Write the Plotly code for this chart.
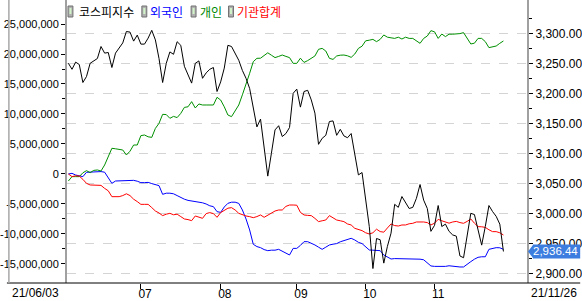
import plotly.graph_objects as go

# ---------------- data ----------------
START_LABEL = "21/06/03"
END_LABEL = "21/11/26"
MONTH_TICK_POS = [20, 42, 63, 82, 101]          # trading-day index of month starts
MONTH_TICK_TEXT = ["07", "08", "09", "10", "11"]

SERIES_NAMES = ["코스피지수", "외국인", "개인", "기관합계"]

# KOSPI index (right axis)
KOSPI = [3250, 3240, 3252, 3248, 3218, 3228, 3250, 3254, 3258, 3278,
         3267, 3268, 3243, 3267, 3276, 3284, 3303, 3302, 3287, 3297,
         3282, 3282, 3292, 3305, 3289, 3258, 3218, 3250, 3269, 3265,
         3286, 3280, 3245, 3232, 3217, 3250, 3254, 3225, 3234, 3240,
         3243, 3203, 3219, 3242, 3280, 3278, 3267, 3255, 3238, 3225,
         3208, 3178, 3144, 3157, 3110, 3062, 3100, 3139, 3146, 3128,
         3133, 3143, 3200, 3207, 3177, 3203, 3205, 3189, 3167, 3115,
         3125, 3130, 3153, 3154, 3130, 3140, 3129, 3126, 3133, 3100,
         3064, 3068, 3020, 2978, 2908, 2958, 2956, 2917, 2945, 2967,
         3015, 3010, 3028, 3018, 3008, 3010, 3025, 3048, 3022, 3008,
         2970, 2980, 3013, 2978, 2982, 2970, 2964, 2962, 2929, 2926,
         2961, 3000, 2998, 2972, 2947, 2978, 3013, 3003, 2995, 2982,
         2936.44]

# cumulative net buying, millions (left axis)
FOREIGN = [0.0, 0.11, -0.17, -0.3, -0.44, 0.28, 0.3, 0.3, 0.4, 0.4,
           0.3, -0.6, -1.56, -1.17, -1.17, -1.17, -1.1, -1.1, -1.06, -1.2,
           -1.44, -1.44, -1.4, -1.6, -1.8, -1.94, -3.39, -3.2, -3.2, -3.3,
           -3.6, -3.94, -4.2, -4.4, -4.5, -4.5, -4.6, -4.8, -5.0, -5.3,
           -5.44, -6.28, -6.4, -5.5, -4.89, -4.7, -4.7, -4.9, -6.0, -7.5,
           -9.33, -11.72, -12.1, -12.28, -12.6, -12.78, -12.7, -12.7, -12.56, -12.9,
           -13.22, -13.5, -12.4, -12.4, -11.9, -11.28, -11.28, -11.5, -11.83, -12.2,
           -12.56, -12.2, -11.83, -11.7, -11.6, -11.3, -11.1, -10.9, -10.72, -11.0,
           -11.39, -11.6, -12.2, -12.67, -12.7, -12.78, -12.78, -13.5, -13.9, -14.17,
           -14.1, -14.1, -14.1, -14.1, -14.1, -14.1, -14.1, -14.2, -14.3, -14.8,
           -15.33, -15.4, -15.4, -15.5, -15.4, -15.3, -15.4, -15.4, -15.5, -15.5,
           -15.0, -14.61, -14.2, -13.89, -13.8, -13.8, -12.56, -12.4, -12.28, -12.3,
           -12.56]

INDIVIDUAL = [-1.17, -0.44, -0.44, -0.44, 0.2, 0.56, 0.22, 0.6, 0.67, 0.5,
              1.5, 2.8, 4.28, 4.2, 4.1, 4.0, 3.17, 3.8, 4.83, 4.83,
              6.39, 6.5, 6.2, 6.1, 7.6, 8.44, 9.94, 9.9, 9.28, 9.6,
              9.4, 10.1, 11.1, 11.2, 12.06, 11.0, 11.67, 11.5, 11.5, 11.5,
              11.5, 12.78, 12.33, 11.2, 9.83, 9.56, 10.5, 11.5, 13.2, 14.83,
              16.78, 18.72, 19.28, 19.3, 19.8, 20.2, 19.8, 19.4, 19.6, 19.83,
              19.6, 19.4, 18.44, 18.44, 19.3, 18.6, 18.9, 19.28, 19.67, 20.78,
              20.94, 20.5, 19.28, 19.1, 19.67, 19.8, 19.83, 19.7, 19.44, 20.0,
              20.94, 21.3, 22.2, 22.3, 22.44, 22.06, 22.44, 23.17, 22.8, 22.7,
              22.6, 22.8, 22.5, 22.8, 22.6, 22.6, 22.2, 21.78, 22.6, 23.0,
              23.89, 23.7, 22.6, 23.33, 22.9, 23.3, 23.3, 23.3, 23.4, 23.56,
              22.7, 21.67, 21.8, 22.6, 22.6, 22.06, 21.06, 21.2, 21.33, 21.78,
              22.17]

INSTITUTION = [0.0, -0.44, -0.3, -0.35, -0.9, -1.56, -1.83, -1.85, -1.9, -1.9,
               -2.4, -2.8, -3.78, -3.78, -3.78, -3.6, -3.3, -3.6, -4.2, -4.6,
               -5.06, -5.06, -5.06, -5.6, -6.17, -6.5, -6.94, -6.7, -6.56, -6.8,
               -6.7, -7.1, -7.5, -7.6, -7.78, -7.0, -7.2, -7.39, -6.6, -6.44,
               -6.6, -7.22, -6.44, -6.0, -5.7, -5.61, -6.0, -6.56, -6.8, -7.0,
               -7.11, -7.28, -7.1, -6.83, -7.22, -6.9, -6.5, -6.17, -6.0, -6.0,
               -5.4, -5.17, -5.17, -5.2, -6.4, -6.83, -6.9, -6.94, -7.4, -7.94,
               -7.8, -7.67, -6.94, -7.3, -7.67, -7.8, -7.94, -8.33, -8.5, -9.06,
               -9.2, -9.44, -9.8, -10.0, -9.8, -9.2, -9.6, -9.7, -9.0, -8.33,
               -8.6, -8.67, -8.5, -8.5, -8.3, -8.22, -8.0, -7.94, -8.0, -8.1,
               -8.5, -8.2, -7.56, -7.8, -8.0, -8.2, -8.0, -7.9, -8.1, -8.22,
               -7.9, -7.5, -8.2, -8.78, -8.8, -8.9, -9.3, -9.61, -9.61, -9.8,
               -10.17]

UNIT = 1_000_000
LEFT_TICKS = [-15_000_000, -10_000_000, -5_000_000, 0, 5_000_000,
              10_000_000, 15_000_000, 20_000_000, 25_000_000]
RIGHT_TICKS = [2900, 2950, 3000, 3050, 3100, 3150, 3200, 3250, 3300]
LAST_VALUE = KOSPI[-1]

# ---------------- layout geometry ----------------
W, H = 582, 301
ML, MR, MT, MB = 61, 54, 0, 18
PW, PH = W - ML - MR, H - MT - MB

def px_x(px):
    return (px - ML) / PW

def px_y(py):
    return 1 - (py - MT) / PH

FONT = "Liberation Sans, Arial, sans-serif"
KFONT = "Noto Sans CJK KR, sans-serif"

x = list(range(len(KOSPI)))
to_units = lambda arr: [v * UNIT for v in arr]

fig = go.Figure()
fig.add_trace(go.Scatter(x=x, y=to_units(FOREIGN), mode="lines", name=SERIES_NAMES[1],
                         line=dict(color="#0000ff", width=1), yaxis="y"))
fig.add_trace(go.Scatter(x=x, y=to_units(INDIVIDUAL), mode="lines", name=SERIES_NAMES[2],
                         line=dict(color="#009000", width=1), yaxis="y"))
fig.add_trace(go.Scatter(x=x, y=to_units(INSTITUTION), mode="lines", name=SERIES_NAMES[3],
                         line=dict(color="#ff0000", width=1), yaxis="y"))
fig.add_trace(go.Scatter(x=x, y=KOSPI, mode="lines", name=SERIES_NAMES[0],
                         line=dict(color="#000000", width=1), yaxis="y2"))

left_minor = [(a + b) / 2 for a, b in zip(LEFT_TICKS[:-1], LEFT_TICKS[1:])]
right_minor = [(a + b) / 2 for a, b in zip(RIGHT_TICKS[:-1], RIGHT_TICKS[1:])] + [RIGHT_TICKS[-1] + 25]

fig.update_layout(
    width=W, height=H,
    margin=dict(l=ML, r=MR, t=MT, b=MB, pad=0),
    paper_bgcolor="white", plot_bgcolor="white",
    showlegend=False,
    hovermode=False,
    xaxis=dict(
        range=[-0.38, 126.5], showgrid=False, zeroline=False, showline=False,
        tickmode="array", tickvals=MONTH_TICK_POS, ticktext=MONTH_TICK_TEXT,
        ticks="outside", ticklen=5, tickcolor="black", tickwidth=1,
        ticklabelposition="outside right", ticklabelshift=-3,
        tickfont=dict(family=FONT, size=12, color="black"),
    ),
    yaxis=dict(
        range=[-18.17e6, 29.0e6], showgrid=False, zeroline=False,
        showline=True, linecolor="#a0a0a0", linewidth=2,
        tickmode="array", tickvals=LEFT_TICKS,
        ticktext=[f"{v:,}" for v in LEFT_TICKS],
        ticks="outside", ticklen=4, tickcolor="black", tickwidth=1,
        tickfont=dict(family=FONT, size=11, color="black"),
        minor=dict(tickvals=left_minor, ticks="outside", ticklen=3,
                   tickcolor="black", showgrid=False),
    ),
    yaxis2=dict(
        range=[2883.9, 3355.5], overlaying="y", side="right", anchor="x",
        showgrid=True, griddash="dash", gridcolor="#d4d4d4", gridwidth=1,
        zeroline=False, showline=True, linecolor="#a0a0a0", linewidth=2,
        tickmode="array", tickvals=RIGHT_TICKS,
        ticktext=[f"{v:,.2f}" for v in RIGHT_TICKS],
        ticks="outside", ticklen=4, tickcolor="black", tickwidth=1,
        tickfont=dict(family=FONT, size=12, color="black"),
        minor=dict(tickvals=right_minor, ticks="outside", ticklen=3,
                   tickcolor="black", showgrid=False),
    ),
)

shapes = []
# bottom line across the whole chart
shapes.append(dict(type="line", xref="paper", yref="paper",
                   x0=px_x(0), x1=px_x(W), y0=0, y1=0,
                   line=dict(color="black", width=1), layer="above"))
# outer left frame line
shapes.append(dict(type="line", xref="paper", yref="paper",
                   x0=px_x(2), x1=px_x(2), y0=0, y1=px_y(0),
                   line=dict(color="#a8a8a8", width=1.5), layer="above"))

# legend (icons + coloured text)
legend_items = [
    (SERIES_NAMES[0], "#000000", 62, 71),
    (SERIES_NAMES[1], "#0000ff", 137, 143),
    (SERIES_NAMES[2], "#008800", 187, 194),
    (SERIES_NAMES[3], "#ff0000", 225, 232),
]
annotations = []
for name, col, icon_x, text_x in legend_items:
    shapes.append(dict(type="rect", xref="paper", yref="paper",
                       x0=px_x(icon_x), x1=px_x(icon_x + 5),
                       y0=px_y(17), y1=px_y(6),
                       line=dict(color="#707070", width=1),
                       fillcolor="#b0b0b0", layer="above"))
    shapes.append(dict(type="rect", xref="paper", yref="paper",
                       x0=px_x(icon_x + 1.5), x1=px_x(icon_x + 3.5),
                       y0=px_y(14), y1=px_y(8),
                       line=dict(width=0), fillcolor="#d0f4c8", layer="above"))
    annotations.append(dict(text=name, xref="paper", yref="paper",
                            x=px_x(text_x), y=px_y(11.5), xanchor="left", yanchor="middle",
                            showarrow=False, font=dict(family=KFONT, size=12, color=col)))

# date labels at both ends
annotations.append(dict(text=START_LABEL, xref="paper", yref="paper",
                        x=px_x(3), y=0, xanchor="left", yanchor="top", yshift=-1,
                        showarrow=False, font=dict(family=FONT, size=12, color="black")))
annotations.append(dict(text=END_LABEL, xref="paper", yref="paper",
                        x=px_x(581), y=0, xanchor="right", yanchor="top", yshift=-1,
                        showarrow=False, font=dict(family=FONT, size=12, color="black")))

# current value marker on right axis
unit_per_px = (3355.5 - 2883.9) / PH
half = 7 * unit_per_px
BOX_BLUE = "#3c7ddf"
shapes.append(dict(type="rect", xref="paper", yref="y2",
                   x0=px_x(534), x1=px_x(582), y0=LAST_VALUE - half, y1=LAST_VALUE + half,
                   line=dict(width=0), fillcolor=BOX_BLUE, layer="above"))
shapes.append(dict(type="path", xref="paper", yref="y2",
                   path=(f"M {px_x(529)} {LAST_VALUE} L {px_x(534.5)} {LAST_VALUE + half} "
                         f"L {px_x(534.5)} {LAST_VALUE - half} Z"),
                   line=dict(width=0), fillcolor=BOX_BLUE, layer="above"))
annotations.append(dict(text=f"{LAST_VALUE:,.2f}", xref="paper", yref="y2",
                        x=px_x(533), y=LAST_VALUE, xanchor="left", yanchor="middle",
                        borderpad=0,
                        showarrow=False, font=dict(family=FONT, size=11.5, color="white")))

fig.update_layout(shapes=shapes, annotations=annotations)

fig.write_html("out.html")
